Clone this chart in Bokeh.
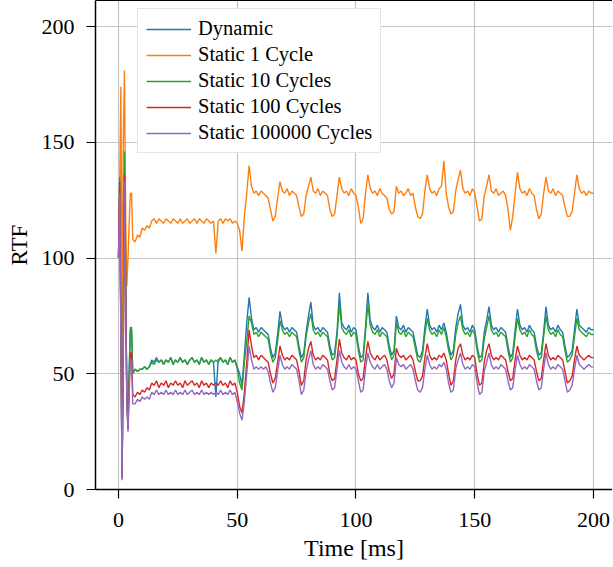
from bokeh.plotting import figure
from bokeh.models import FixedTicker, LinearAxis, Range1d
from bokeh.embed import file_html
from bokeh.resources import INLINE

# ---- data ---------------------------------------------------------------
time_early = [0, 0.5, 1, 1.5, 2, 2.5, 3, 3.5, 4, 4.5, 5, 5.5]
time_ms = time_early + list(range(6, 201))

dynamic = [
    100, 130, 70, 5, 60, 138, 90, 40, 26, 50, 69, 69,
    50, 52, 51, 52,
    52, 53, 52, 53, 56, 55, 57, 55, 56, 54,
    56, 55, 57, 54, 56, 55, 57, 55, 56, 54,
    56, 57, 55, 56, 54, 57, 55, 56, 54, 56,
    55, 40, 56, 57, 55, 56, 54, 57, 55, 56,
    53, 50, 45, 58, 72, 83, 74, 69, 70, 68,
    70, 69, 68, 67, 61, 57, 59, 67, 77, 71,
    69, 70, 68, 70, 69, 68, 62, 57, 59, 68,
    75, 81, 71, 69, 70, 68, 70, 69, 68, 62,
    58, 59, 68, 85, 72, 70, 69, 71, 68, 70,
    69, 62, 57, 58, 70, 85, 73, 70, 69, 71,
    68, 70, 69, 68, 62, 58, 60, 75, 70, 69,
    71, 68, 70, 69, 68, 63, 58, 57, 60, 70,
    78, 71, 69, 70, 68, 71, 69, 72, 68, 62,
    58, 60, 70, 76, 80, 71, 69, 70, 68, 71,
    69, 62, 57, 58, 68, 73, 79, 71, 69, 70,
    68, 70, 69, 68, 62, 57, 59, 69, 78, 71,
    69, 70, 68, 71, 69, 68, 62, 58, 59, 68,
    79, 71, 69, 70, 68, 71, 69, 68, 62, 57,
    58, 60, 69, 78, 71, 70, 69, 68, 70, 69,
    69,
]

static_1 = [
    100, 130, 174, 67, 150, 181, 120, 88, 100, 115, 128, 128,
    108, 107, 110, 109,
    113, 112, 114, 113, 116, 117, 115, 117, 116, 115,
    117, 116, 115, 117, 116, 115, 117, 115, 116, 117,
    115, 116, 117, 115, 117, 116, 115, 117, 116, 115,
    116, 102, 116, 117, 115, 117, 116, 117, 115, 116,
    115, 112, 103, 118, 128, 140, 131, 128, 129, 127,
    129, 128, 127, 126, 121, 116, 118, 126, 133, 129,
    128, 130, 127, 129, 128, 127, 122, 118, 119, 127,
    131, 135, 129, 128, 130, 127, 129, 128, 127, 121,
    118, 119, 127, 135, 130, 128, 129, 127, 130, 128,
    127, 122, 115, 117, 128, 136, 130, 128, 129, 127,
    130, 128, 127, 126, 121, 119, 120, 131, 128, 129,
    127, 128, 130, 127, 128, 122, 118, 117, 119, 129,
    136, 130, 128, 129, 127, 130, 131, 142, 128, 122,
    119, 120, 129, 134, 138, 130, 128, 129, 127, 130,
    128, 122, 116, 117, 127, 131, 136, 129, 128, 130,
    127, 128, 129, 127, 121, 112, 118, 128, 137, 130,
    128, 129, 127, 130, 128, 127, 121, 117, 119, 128,
    135, 129, 128, 130, 127, 129, 128, 127, 122, 118,
    118, 120, 128, 136, 130, 128, 129, 127, 129, 128,
    128,
]

static_10 = [
    100, 135, 75, 6, 65, 146, 95, 42, 28, 52, 70, 70,
    50, 52, 51, 52,
    52, 53, 52, 53, 55, 54, 56, 55, 56, 54,
    56, 55, 57, 54, 56, 55, 57, 55, 56, 54,
    56, 57, 55, 56, 54, 57, 55, 56, 54, 56,
    55, 56, 55, 57, 55, 56, 54, 57, 55, 56,
    52, 46, 43, 55, 64, 75, 72, 67, 68, 66,
    68, 67, 66, 65, 59, 55, 57, 64, 73, 69,
    67, 68, 66, 68, 67, 66, 60, 55, 57, 66,
    72, 76, 69, 67, 68, 66, 68, 67, 66, 60,
    56, 57, 66, 80, 70, 68, 67, 69, 66, 68,
    67, 60, 55, 56, 68, 80, 71, 68, 67, 69,
    66, 68, 67, 66, 60, 56, 58, 72, 68, 67,
    69, 66, 68, 67, 66, 61, 56, 55, 58, 67,
    74, 69, 67, 68, 66, 69, 67, 70, 66, 60,
    56, 58, 67, 72, 75, 69, 67, 68, 66, 69,
    67, 60, 55, 56, 65, 70, 75, 69, 67, 68,
    66, 68, 67, 66, 60, 55, 57, 66, 74, 69,
    67, 68, 66, 69, 67, 66, 60, 56, 57, 66,
    75, 69, 67, 68, 66, 69, 67, 66, 60, 55,
    56, 58, 66, 74, 69, 68, 67, 66, 68, 67,
    67,
]

static_100 = [
    100, 133, 70, 5, 60, 136, 90, 40, 26, 45, 59, 59,
    41, 40, 42, 41,
    43, 42, 44, 43, 46, 45, 47, 44, 46, 45,
    47, 44, 46, 45, 47, 45, 46, 44, 47, 45,
    46, 47, 45, 46, 44, 47, 45, 46, 44, 46,
    45, 46, 45, 47, 45, 46, 44, 47, 45, 46,
    42, 36, 33, 42, 55, 69, 62, 57, 58, 56,
    58, 57, 56, 55, 50, 46, 48, 55, 62, 58,
    56, 57, 56, 58, 57, 56, 51, 45, 47, 56,
    61, 64, 58, 56, 57, 56, 58, 57, 56, 50,
    47, 48, 56, 65, 59, 57, 56, 58, 56, 57,
    56, 50, 47, 48, 57, 64, 59, 57, 56, 58,
    56, 57, 58, 56, 51, 48, 50, 61, 58, 57,
    58, 56, 57, 58, 56, 51, 47, 47, 49, 57,
    63, 58, 56, 57, 56, 58, 57, 59, 56, 50,
    45, 47, 56, 61, 63, 58, 56, 57, 56, 58,
    57, 50, 45, 46, 55, 60, 63, 58, 56, 57,
    56, 58, 57, 56, 51, 47, 48, 56, 62, 58,
    56, 57, 56, 58, 57, 56, 51, 47, 48, 56,
    63, 58, 56, 57, 56, 58, 57, 56, 51, 46,
    47, 49, 56, 62, 58, 57, 56, 57, 58, 57,
    57,
]

static_100000 = [
    100, 128, 65, 4, 55, 133, 85, 38, 25, 42, 56, 56,
    37, 37, 39, 38,
    40, 39, 40, 39, 42, 41, 43, 41, 42, 41,
    43, 41, 42, 41, 43, 41, 42, 41, 43, 41,
    42, 43, 41, 42, 41, 43, 41, 42, 41, 42,
    41, 42, 41, 43, 41, 42, 41, 43, 41, 42,
    38, 33, 30, 38, 50, 62, 56, 52, 53, 52,
    53, 52, 53, 51, 46, 42, 44, 51, 58, 54,
    52, 53, 52, 54, 53, 52, 47, 41, 43, 51,
    56, 60, 54, 52, 53, 52, 54, 53, 52, 47,
    43, 44, 52, 60, 55, 53, 52, 54, 52, 53,
    52, 47, 42, 43, 52, 59, 55, 53, 52, 54,
    52, 53, 54, 52, 47, 44, 46, 57, 54, 53,
    54, 52, 53, 54, 52, 47, 43, 42, 44, 52,
    58, 54, 52, 53, 52, 54, 53, 55, 52, 46,
    42, 43, 52, 56, 59, 54, 52, 53, 52, 54,
    53, 46, 41, 42, 51, 55, 59, 54, 52, 53,
    52, 54, 53, 52, 47, 43, 44, 52, 58, 54,
    52, 53, 52, 54, 53, 52, 47, 43, 44, 52,
    59, 54, 52, 53, 52, 54, 53, 52, 47, 42,
    43, 45, 52, 58, 54, 53, 52, 53, 54, 53,
    53,
]

series_names = ["Dynamic", "Static 1 Cycle", "Static 10 Cycles",
                "Static 100 Cycles", "Static 100000 Cycles"]
series_values = [dynamic, static_1, static_10, static_100, static_100000]
series_colors = ["#1f77b4", "#ff7f0e", "#2ca02c", "#d62728", "#9467bd"]

x_ticks = [0, 50, 100, 150, 200]
y_ticks = [0, 50, 100, 150, 200]

for s in series_values:
    assert len(s) == len(time_ms), len(s)

FONT = "Liberation Serif"

p = figure(
    width=612, height=566,
    output_backend="svg", toolbar_location=None,
    x_range=Range1d(-9.68, 208.0), y_range=Range1d(0, 211.3),
    min_border_left=95, min_border_right=0, min_border_top=0,
    min_border_bottom=77,
)
p.background_fill_color = "white"
p.border_fill_color = "white"
p.outline_line_color = None

for name, vals, col in zip(series_names, series_values, series_colors):
    p.line(time_ms, vals, line_color=col, line_width=1.4, legend_label=name)

for ax in (p.xaxis[0], p.yaxis[0]):
    ax.ticker = FixedTicker(ticks=x_ticks if ax is p.xaxis[0] else y_ticks)
    ax.axis_line_color = "black"
    ax.axis_line_width = 1.5
    ax.major_tick_line_color = "black"
    ax.major_tick_line_width = 1.2
    ax.major_tick_in = 0
    ax.major_tick_out = 9
    ax.minor_tick_line_color = None
    ax.major_label_text_font = FONT
    ax.major_label_text_font_size = "22px"
    ax.major_label_text_color = "black"
    ax.axis_label_text_font = FONT
    ax.axis_label_text_font_size = "23px"
    ax.axis_label_text_font_style = "normal"
    ax.axis_label_text_color = "black"

p.xaxis.axis_label_text_font_size = "24px"
p.xaxis.axis_label = "Time [ms]"
p.yaxis.axis_label = "RTF"
p.xaxis.major_label_standoff = 14
p.yaxis.major_label_standoff = 12
p.xaxis.axis_label_standoff = 5
p.yaxis.axis_label_standoff = 7

top = LinearAxis(ticker=FixedTicker(ticks=[]), axis_line_color="black",
                 axis_line_width=1.2, major_tick_line_color=None,
                 minor_tick_line_color=None, major_label_text_font_size="0px")
p.add_layout(top, "above")

p.grid.grid_line_color = "#c4c4c4"
p.grid.grid_line_width = 1.2
p.xgrid.ticker = FixedTicker(ticks=x_ticks)
p.ygrid.ticker = FixedTicker(ticks=y_ticks)

lg = p.legend[0]
lg.location = (42, 336)
lg.label_text_font = FONT
lg.label_text_font_size = "20.5px"
lg.label_text_color = "black"
lg.label_height = 20
lg.glyph_height = 20
lg.glyph_width = 45
lg.label_standoff = 7
lg.spacing = 3
lg.padding = 8
lg.margin = 0
lg.border_line_color = "#cccccc"
lg.border_line_width = 1.2
lg.background_fill_alpha = 1.0

open("out.html", "w").write(file_html(p, INLINE))
